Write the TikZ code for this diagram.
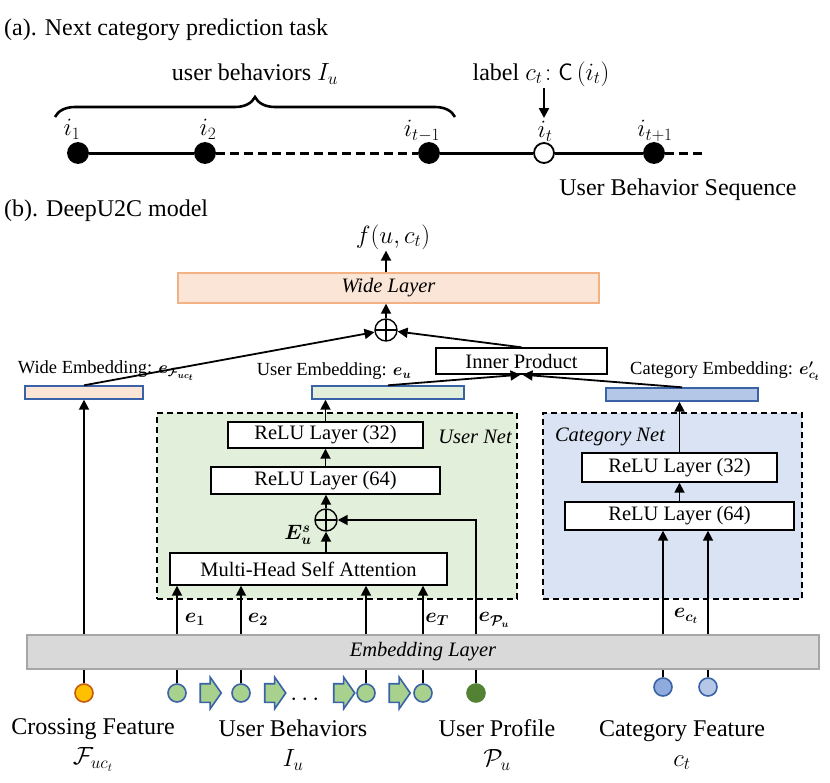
\documentclass[tikz,border=0pt]{standalone}
\usepackage{amsmath,amssymb}
\usepackage{bm}
\usepackage{fontspec}
\setmainfont{Liberation Serif}
\usepackage{xcolor}
\usetikzlibrary{arrows.meta, positioning, shapes.arrows, decorations.pathreplacing, calc}

\definecolor{wideFill}{HTML}{FBE5D6}
\definecolor{wideLine}{HTML}{F4B183}
\definecolor{userFill}{HTML}{E2EFDA}
\definecolor{catFill}{HTML}{DAE3F3}
\definecolor{catEmbFill}{HTML}{B4C7E7}
\definecolor{embLine}{HTML}{3A62A6}
\definecolor{embLayerFill}{HTML}{D9D9D9}
\definecolor{embLayerLine}{HTML}{A6A6A6}
\definecolor{behFill}{HTML}{A9D18E}
\definecolor{profFill}{HTML}{548235}
\definecolor{crossFill}{HTML}{FFC000}
\definecolor{crossLine}{HTML}{C55A11}
\definecolor{catOne}{HTML}{8FAADC}

\newcommand{\fBig}{\fontsize{24}{30}\selectfont}
\newcommand{\fBox}{\fontsize{20.5}{24}\selectfont}
\newcommand{\fLab}{\fontsize{18.5}{22}\selectfont}

\begin{document}
\begin{tikzpicture}[
  x=1pt, y=-1pt,
  txt/.style={inner sep=1pt, font=\fBig},
  lab/.style={inner sep=1pt, font=\fLab},
  layer/.style={draw, line width=1.4pt, fill=white, font=\fBox, inner sep=0pt},
  embbar/.style={draw=embLine, line width=1.4pt, minimum height=13pt, inner sep=0pt},
  netbox/.style={draw, line width=1.4pt, dash pattern=on 6pt off 4pt, inner sep=0pt},
  plus/.style={circle, draw, line width=1.4pt, minimum size=22pt, inner sep=0pt,
    path picture={\draw[line width=1.4pt]
      (path picture bounding box.north) -- (path picture bounding box.south)
      (path picture bounding box.west) -- (path picture bounding box.east);}},
  arr/.style={-{Triangle[length=10pt,width=10pt]}, line width=1.8pt},
  seqdot/.style={circle, draw, line width=1.8pt, fill=black, minimum size=20pt, inner sep=0pt},
  feat/.style={circle, draw=embLine, line width=1.6pt, minimum size=18pt, inner sep=0pt},
  blk/.style={single arrow, draw=embLine, fill=behFill, line width=1.6pt,
    inner xsep=0pt, inner ysep=8.5pt, minimum height=21pt,
    single arrow head extend=6.5pt, single arrow tip angle=110}
]
\useasboundingbox (0,0) rectangle (830,782);

% (a) task
\node[txt, anchor=west] (taskA) at (3,30) {(a). Next category prediction task};
\node[seqdot] (s1) at (78,153) {};
\node[seqdot] (s2) at (205,153) {};
\node[seqdot] (s3) at (429,153) {};
\node[seqdot, fill=white] (s4) at (544,153) {};
\node[seqdot] (s5) at (654,153) {};
\coordinate (seqEnd) at (706,153);
\draw[line width=3pt] (s1) -- (s2);
\draw[line width=3pt, dash pattern=on 9pt off 5pt] (s2) -- (s3);
\draw[line width=3pt] (s3) -- (s4) -- (s5);
\draw[line width=3pt, dash pattern=on 9pt off 5pt] (s5) -- (seqEnd);
\node[txt] (li1) at (72,129) {$i_1$};
\node[txt] (li2) at (208,129) {$i_2$};
\node[txt] (li3) at (422,131) {$i_{t-1}$};
\node[txt] (li4) at (545,131) {$i_t$};
\node[txt] (li5) at (655,131) {$i_{t+1}$};
\draw[decorate, decoration={brace, amplitude=20pt}, line width=2.6pt] (55,117) -- (455,117);
\node[txt] (ubeh) at (255,74) {user behaviors $I_u$};
\node[txt] (lbl) at (541,74) {label $c_t\!:\mathsf{C}\,(i_t)$};
\coordinate (lblTip) at (544,118);
\draw[arr, line width=2.4pt] (lbl.south -| lblTip) -- (lblTip);
\node[txt] (seqName) at (678,190) {User Behavior Sequence};

% (b) model
\node[txt, anchor=west] (taskB) at (3,211) {(b). DeepU2C model};
\node[txt] (fout) at (393,237) {$f(u,c_t)$};
\node[layer, fill=wideFill, draw=wideLine, minimum width=421pt, minimum height=30pt] (wide) at (388.5,288) {\textit{Wide Layer}};
\node[plus] (plusT) at (386,330) {};
\node[layer, minimum width=171pt, minimum height=26pt] (inner) at (521.5,361) {Inner Product};

\node[embbar, fill=wideFill, minimum width=118pt] (wideEmb) at (84,392.5) {};
\node[embbar, fill=userFill, minimum width=152pt] (userEmb) at (388,392.5) {};
\node[embbar, fill=catEmbFill, minimum width=152pt] (catEmb) at (682,394.5) {};
\node[lab] (wideLab) at (106,371) {Wide Embedding: $\bm{e_{\mathcal{F}_{uc_t}}}$};
\node[lab] (userLab) at (334,371) {User Embedding: $\bm{e_u}$};
\node[lab] (catLab) at (725,371) {Category Embedding: $\bm{e'_{c_t}}$};

\node[netbox, fill=userFill, minimum width=360pt, minimum height=186pt] (userNet) at (337,506) {};
\node[netbox, fill=catFill, minimum width=259pt, minimum height=186pt] (catNet) at (672.5,506) {};
\node[inner sep=1pt, font=\fBox\itshape] (userNetLab) at (475,437) {User Net};
\node[inner sep=1pt, font=\fBox\itshape] (catNetLab) at (610,437) {Category Net};

\node[layer, minimum width=195pt, minimum height=26pt] (reluA) at (325.5,435) {ReLU Layer (32)};
\node[layer, minimum width=229pt, minimum height=27pt] (reluB) at (325.5,480.5) {ReLU Layer (64)};
\node[plus] (plusU) at (326,520) {};
\node[layer, minimum width=277pt, minimum height=32pt] (mhsa) at (308.5,569) {Multi-Head Self Attention};
\node[layer, minimum width=195pt, minimum height=29pt] (reluC) at (679.5,467.5) {ReLU Layer (32)};
\node[layer, minimum width=229pt, minimum height=28pt] (reluD) at (679.5,516) {ReLU Layer (64)};

\node[layer, fill=embLayerFill, draw=embLayerLine, minimum width=792pt, minimum height=34pt] (emb) at (423,652) {\textit{Embedding Layer}};

% input features
\node[feat, fill=crossFill, draw=crossLine] (fc) at (84,693) {};
\node[feat, fill=behFill] (ub1) at (177,693) {};
\node[feat, fill=behFill] (ub2) at (241,693) {};
\node[feat, fill=behFill] (ub3) at (366,693) {};
\node[feat, fill=behFill] (ub4) at (423,693) {};
\node[blk] (ar1) at (207.5,693) {};
\node[blk] (ar2) at (272,693) {};
\node[blk] (ar3) at (341,693) {};
\node[blk] (ar4) at (396.5,693) {};
\node[inner sep=0pt, font=\fBig] (dots) at (307,700) {$\cdots$};
\node[feat, fill=profFill, draw=profFill] (up) at (476,693) {};
\node[feat, fill=catOne] (cf1) at (663,687) {};
\node[feat, fill=catEmbFill] (cf2) at (708,687) {};

\node[txt, align=center] (crossName) at (93,745) {Crossing Feature\\$\mathcal{F}_{uc_t}$};
\node[txt, align=center] (behName) at (293,745) {User Behaviors\\$I_u$};
\node[txt, align=center] (profName) at (497,745) {User Profile\\$\mathcal{P}_u$};
\node[txt, align=center] (catName) at (682,745) {Category Feature\\$c_t$};

\foreach \f in {fc,ub1,ub2,ub3,ub4,up,cf1,cf2}
  \draw[line width=1.8pt] (\f) -- (\f |- emb.south);

% connectors
\draw[arr] (fc |- emb.north) -- (wideEmb.south);
\foreach \f in {ub1,ub2,ub3,ub4}
  \draw[arr] (\f |- emb.north) -- (\f |- mhsa.south);
\draw[arr] (up |- emb.north) |- (plusU);
\draw[arr] (plusU |- mhsa.north) -- (plusU);
\draw[arr] (plusU) -- (plusU |- reluB.south);
\draw[arr] (reluB.north) -- (reluA.south);
\draw[arr] (reluA.north) -- (reluA.north |- userEmb.south);
\draw[arr] (cf1 |- emb.north) -- (cf1 |- reluD.south);
\draw[arr] (cf2 |- emb.north) -- (cf2 |- reluD.south);
\draw[arr] (reluD.north) -- (reluC.south);
\draw[arr] (reluC.north) -- (reluC.north |- catEmb.south);
\draw[arr] (userEmb.north) -- ([xshift=-1pt]inner.south);
\draw[arr] (catEmb.north) -- ([xshift=1pt]inner.south);
\draw[arr] (wideEmb.north) -- (plusT);
\draw[arr] (inner.north) -- (plusT);
\draw[arr] (plusT) -- (plusT |- wide.south);
\draw[arr] (plusT |- wide.north) -- (plusT |- fout.south);

\node[lab, font=\fBox] (eOne) at (195,619) {$\bm{e_1}$};
\node[lab, font=\fBox] (eTwo) at (258,619) {$\bm{e_2}$};
\node[lab, font=\fBox] (eT) at (437,619) {$\bm{e_T}$};
\node[lab, font=\fBox] (eP) at (494,620) {$\bm{e_{\mathcal{P}_u}}$};
\node[lab, font=\fBox] (eC) at (686,616) {$\bm{e_{c_t}}$};
\node[lab, font=\fBox, inner sep=0pt] (eS) at (298,535) {$\bm{E^s_u}$};
\end{tikzpicture}
\end{document}
